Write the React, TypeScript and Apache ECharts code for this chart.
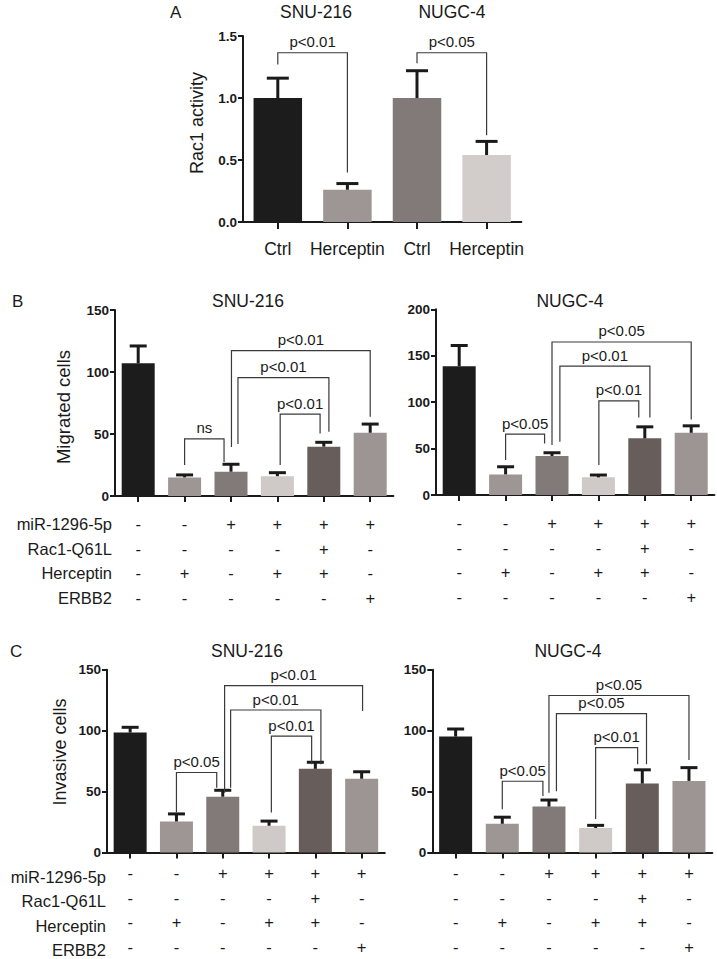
import React, { useEffect, useRef } from 'react';
import * as echarts from 'echarts';

const FONT = "'Liberation Sans', Arial, Helvetica, sans-serif";
const INK = '#1a1a1a';
const BRACKET = '#3a3a3a';

// ---------- Panel A ----------
const aCategories = ['Ctrl', 'Herceptin', 'Ctrl', 'Herceptin'];
const aMean = [1.0, 0.26, 1.0, 0.54];
const aSem = [0.16, 0.05, 0.22, 0.11];
const aColors = ['#1c1c1c', '#9d9694', '#827a78', '#d2cccb'];
const aTitles = ['SNU-216', 'NUGC-4'];
// [left index, right index, bracket height, left leg end, right leg end]
const aBrackets = [
  [0, 1, 1.365, 1.27, 0.4],
  [2, 3, 1.365, 1.28, 0.7],
];
const aBracketLabels = ['p<0.01', 'p<0.05'];

// ---------- Shared table ----------
const rowLabels = ['miR-1296-5p', 'Rac1-Q61L', 'Herceptin', 'ERBB2'];
const rowMiR = ['-', '-', '+', '+', '+', '+'];
const rowRac1 = ['-', '-', '-', '-', '+', '-'];
const rowHerceptin = ['-', '+', '-', '+', '+', '-'];
const rowERBB2 = ['-', '-', '-', '-', '-', '+'];
const groupIds = ['g1', 'g2', 'g3', 'g4', 'g5', 'g6'];
const groupColors = ['#1c1c1c', '#9d9694', '#827a78', '#cfc9c7', '#675d5a', '#9c9593'];
const cellTitles = ['SNU-216', 'NUGC-4'];

// ---------- Panel B (migration) ----------
const bLeftMean = [107, 15, 19.6, 16, 39.8, 51];
const bLeftSem = [14, 2, 6, 2.8, 3.5, 7];
const bLeftBrackets = [
  [1.0, 1.85, 46, 25, 27.4],
  [3.06, 3.92, 66, 25, 50.5],
  [2.15, 4.11, 95.4, 42, 51.9],
  [2.01, 5.0, 117.2, 39.5, 64],
];
const bLeftLabels = ['ns', 'p<0.01', 'p<0.01', 'p<0.01'];

const bRightMean = [138.7, 22.2, 42, 19, 61, 67];
const bRightSem = [22.3, 8.2, 3.5, 2.5, 12.4, 7.5];
const bRightBrackets = [
  [1.0, 1.84, 65.6, 37.6, 55.6],
  [3.01, 3.87, 101.4, 32.3, 83.5],
  [2.17, 4.11, 138.7, 57.3, 83.5],
  [2.0, 5.0, 164.8, 53.8, 81.4],
];
const bRightLabels = ['p<0.05', 'p<0.01', 'p<0.01', 'p<0.05'];

// ---------- Panel C (invasion) ----------
const cLeftMean = [98.4, 25.4, 45.7, 21.9, 68.6, 60.5];
const cLeftSem = [4.3, 6.2, 5.3, 3.8, 5.4, 5.7];
const cLeftBrackets = [
  [1.0, 1.87, 65.6, 32.8, 53],
  [3.05, 3.92, 95.5, 32.8, 72.3],
  [2.17, 4.12, 116.9, 53, 72.3],
  [2.04, 5.02, 136.9, 49, 116],
];
const cLeftLabels = ['p<0.05', 'p<0.01', 'p<0.01', 'p<0.01'];

const cRightMean = [95.1, 23.5, 37.6, 20, 56.5, 58.7];
const cRightSem = [6.2, 5.4, 5.4, 2.2, 11.3, 10.9];
const cRightBrackets = [
  [1.0, 1.87, 58.4, 35.5, 46.3],
  [3.0, 3.9, 86, 27.4, 72.3],
  [2.16, 4.09, 114, 50.3, 72.3],
  [2.0, 5.0, 128.8, 49, 75.8],
];
const cRightLabels = ['p<0.05', 'p<0.01', 'p<0.05', 'p<0.05'];

const tableRows = [rowMiR, rowRac1, rowHerceptin, rowERBB2];

function errRender(capPx: number) {
  return (params: any, api: any) => {
    const x = api.value(0);
    const m = api.value(1);
    const e = api.value(2);
    const p0 = api.coord([x, m]);
    const p1 = api.coord([x, m + e]);
    return {
      type: 'group',
      children: [
        { type: 'line', shape: { x1: p0[0], y1: p0[1], x2: p1[0], y2: p1[1] }, style: { stroke: INK, lineWidth: 3 } },
        { type: 'line', shape: { x1: p1[0] - capPx / 2, y1: p1[1], x2: p1[0] + capPx / 2, y2: p1[1] }, style: { stroke: INK, lineWidth: 3 } },
      ],
    };
  };
}

function bracketRender(labels: string[]) {
  return (params: any, api: any) => {
    const band = api.size([1, 0])[0];
    const px = (v: number) => api.coord([Math.floor(v), 0])[0] + (v - Math.floor(v)) * band;
    const py = (v: number) => api.coord([0, v])[1];
    const x1 = px(api.value(0));
    const x2 = px(api.value(1));
    const yTop = py(api.value(2));
    return {
      type: 'group',
      children: [
        {
          type: 'polyline',
          shape: { points: [[x1, py(api.value(3))], [x1, yTop], [x2, yTop], [x2, py(api.value(4))]] },
          style: { stroke: BRACKET, lineWidth: 1.2, fill: null },
        },
        {
          type: 'text',
          x: (x1 + x2) / 2,
          y: yTop - 11,
          style: {
            text: labels[params.dataIndex],
            fontSize: 15,
            fontFamily: FONT,
            fill: INK,
            align: 'center',
            verticalAlign: 'middle',
          },
        },
      ],
    };
  };
}

function panelSeries(idx: number, means: number[], sems: number[], colors: string[], barW: number, cap: number, brackets: number[][], labels: string[]) {
  return [
    {
      type: 'bar',
      xAxisIndex: idx,
      yAxisIndex: idx,
      barWidth: barW,
      data: means.map((v, i) => ({ value: v, itemStyle: { color: colors[i] } })),
      z: 2,
    },
    {
      type: 'custom',
      xAxisIndex: idx,
      yAxisIndex: idx,
      data: means.map((v, i) => [i, v, sems[i]]),
      renderItem: errRender(cap),
      z: 3,
    },
    {
      type: 'custom',
      xAxisIndex: idx,
      yAxisIndex: idx,
      data: brackets,
      renderItem: bracketRender(labels),
      z: 4,
    },
  ];
}

const axisLineStyle = { color: INK, width: 2 };

function yAxisDef(idx: number, max: number, interval: number, decimals: number) {
  return {
    type: 'value',
    gridIndex: idx,
    min: 0,
    max,
    interval,
    axisLine: { show: true, lineStyle: axisLineStyle },
    axisTick: { show: true, length: 5, lineStyle: axisLineStyle },
    axisLabel: {
      fontFamily: FONT,
      fontWeight: 'bold',
      fontSize: 13.5,
      color: INK,
      margin: 6,
      formatter: (v: number) => v.toFixed(decimals),
    },
    splitLine: { show: false },
  };
}

function xAxisTable(idx: number, margin: number) {
  return {
    type: 'category',
    gridIndex: idx,
    data: groupIds,
    axisLine: { show: true, lineStyle: axisLineStyle },
    axisTick: { show: true, alignWithLabel: true, length: 6, lineStyle: axisLineStyle },
    axisLabel: {
      interval: 0,
      margin,
      fontFamily: FONT,
      fontSize: 16.5,
      color: INK,
      lineHeight: 24.5,
      formatter: (_v: string, i: number) => tableRows.map((r) => r[i]).join('\n'),
    },
  };
}

function txt(text: string, x: number, y: number, size: number, align = 'center', rotation = 0) {
  return {
    type: 'text',
    x,
    y,
    rotation,
    style: { text, fontSize: size, fontFamily: FONT, fill: INK, align, verticalAlign: 'middle' },
  };
}

export default function App() {
  const ref = useRef<HTMLDivElement>(null);
  useEffect(() => {
    if (!ref.current) return;
    const chart = echarts.init(ref.current, undefined, { renderer: 'svg' });
    const bMargin = 15.8;
    const cMargin = 8.6;
    const lh = 24.5;
    const bRowY = (i: number) => 496 + bMargin + lh * (i + 0.5);
    const cRowY = (i: number) => 855.7 + cMargin + lh * (i + 0.5);
    const graphic: any[] = [
      txt('A', 170, 12, 17, 'left'),
      txt(aTitles[0], 316, 12, 17.5),
      txt(aTitles[1], 452, 12, 17.5),
      txt('Rac1 activity', 197, 123, 18, 'center', Math.PI / 2),
      txt('B', 12, 301, 17, 'left'),
      txt(cellTitles[0], 248, 301, 17.5),
      txt(cellTitles[1], 570, 301, 17.5),
      txt('Migrated cells', 63, 407, 18.5, 'center', Math.PI / 2),
      txt('C', 10, 651, 17, 'left'),
      txt(cellTitles[0], 247, 651, 17.5),
      txt(cellTitles[1], 568, 651, 17.5),
      txt('Invasive cells', 60, 752, 18, 'center', Math.PI / 2),
      ...rowLabels.map((l, i) => txt(l, 112, bRowY(i), 16.5, 'right')),
      ...rowLabels.map((l, i) => txt(l, 106, cRowY(i), 16.5, 'right')),
    ];
    const option: any = {
      animation: false,
      backgroundColor: '#ffffff',
      grid: [
        { left: 243, top: 36, width: 278.4, height: 186 },
        { left: 115, top: 310, width: 278.4, height: 186 },
        { left: 436, top: 309.3, width: 278.4, height: 185.7 },
        { left: 107, top: 669.7, width: 277.8, height: 186 },
        { left: 432.3, top: 669.7, width: 280, height: 186 },
      ],
      xAxis: [
        {
          type: 'category',
          gridIndex: 0,
          data: aCategories,
          axisLine: { show: true, lineStyle: axisLineStyle },
          axisTick: { show: true, alignWithLabel: true, length: 7, lineStyle: axisLineStyle },
          axisLabel: { interval: 0, margin: 17, fontFamily: FONT, fontSize: 17.5, color: INK, lineHeight: 20 },
        },
        xAxisTable(1, bMargin),
        xAxisTable(2, bMargin),
        xAxisTable(3, cMargin),
        xAxisTable(4, cMargin),
      ],
      yAxis: [
        yAxisDef(0, 1.5, 0.5, 1),
        yAxisDef(1, 150, 50, 0),
        yAxisDef(2, 200, 50, 0),
        yAxisDef(3, 150, 50, 0),
        yAxisDef(4, 150, 50, 0),
      ],
      series: [
        ...panelSeries(0, aMean, aSem, aColors, 48.5, 22, aBrackets, aBracketLabels),
        ...panelSeries(1, bLeftMean, bLeftSem, groupColors, 33, 17, bLeftBrackets, bLeftLabels),
        ...panelSeries(2, bRightMean, bRightSem, groupColors, 33, 17, bRightBrackets, bRightLabels),
        ...panelSeries(3, cLeftMean, cLeftSem, groupColors, 33, 17, cLeftBrackets, cLeftLabels),
        ...panelSeries(4, cRightMean, cRightSem, groupColors, 33, 17, cRightBrackets, cRightLabels),
      ],
      graphic,
    };
    chart.setOption(option);
    return () => chart.dispose();
  }, []);
  return <div ref={ref} style={{ position: 'absolute', left: 0, top: 0, width: 717, height: 959, background: '#fff' }} />;
}
